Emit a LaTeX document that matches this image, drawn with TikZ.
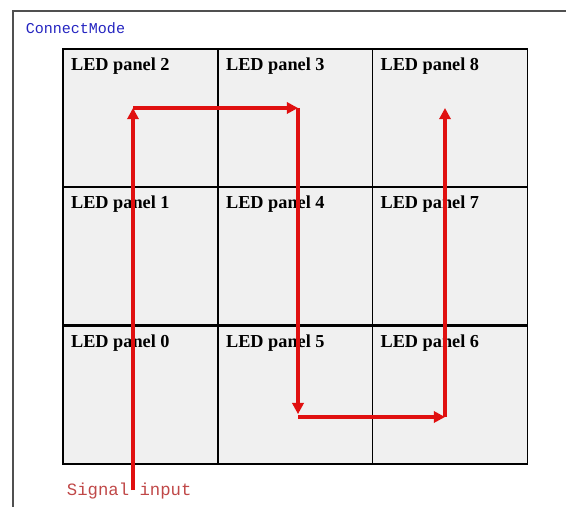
\documentclass[tikz,border=0pt]{standalone}
\usepackage{fontspec}
\setmainfont{Liberation Serif}
\setmonofont{Liberation Mono}
\usepackage{xcolor}
\usepackage{tikz}
\usetikzlibrary{
  arrows.meta,
  positioning
}
\definecolor{panelfill}{HTML}{F0F0F0}
\definecolor{wirered}{HTML}{E01010}
\definecolor{modeblue}{HTML}{2424C0}
\definecolor{inputred}{HTML}{C04848}
\definecolor{framegray}{HTML}{505050}

\begin{document}
\begin{tikzpicture}[
  panel/.style={draw=black, fill=panelfill, line width=1.4pt,
                minimum width=3.875cm, minimum height=3.45cm, inner sep=0pt},
  plabel/.style={anchor=north west, inner xsep=0.22cm, inner ysep=0.24cm,
                 font=\fontsize{13}{15}\selectfont\bfseries},
  wire/.style={-{Triangle[length=8pt, width=8pt]}, line width=2.6pt, wirered},
  mono/.style={font=\fontsize{10.7}{12}\selectfont\ttfamily},
]
  \useasboundingbox (0,0) rectangle (14.15,12.675);
  % frame: only top and left edges show
  \draw[framegray, line width=1.4pt] (14.15,12.4) -- (0.325,12.4) -- (0.325,0);
  \node[mono, modeblue, anchor=base west] (mode) at (0.52,11.825) {ConnectMode};

  % 3x3 wall of panels
  \node[panel, label={[plabel]north west:LED panel 2}] (p2) at (3.5125, 9.725) {};
  \node[panel, label={[plabel]north west:LED panel 3}] (p3) at (7.3875, 9.725) {};
  \node[panel, label={[plabel]north west:LED panel 8}] (p8) at (11.25, 9.725) {};
  \node[panel, label={[plabel]north west:LED panel 1}] (p1) at (3.5125, 6.275) {};
  \node[panel, label={[plabel]north west:LED panel 4}] (p4) at (7.3875, 6.275) {};
  \node[panel, label={[plabel]north west:LED panel 7}] (p7) at (11.25, 6.275) {};
  \node[panel, label={[plabel]north west:LED panel 0}] (p0) at (3.5125, 2.8) {};
  \node[panel, label={[plabel]north west:LED panel 5}] (p5) at (7.3875, 2.8) {};
  \node[panel, label={[plabel]north west:LED panel 6}] (p6) at (11.25, 2.8) {};

  \node[mono, inputred, anchor=base west,
        font=\fontsize{12.3}{14}\selectfont\ttfamily] (sig) at (1.55,0.3) {Signal input};

  % signal path, snake through the columns
  \coordinate (in) at (3.325,0.425);
  \coordinate (c1) at (3.325,9.975);
  \coordinate (c2) at (7.45,9.975);
  \coordinate (c3) at (7.45,2.25);
  \coordinate (c4) at (11.125,2.25);
  \coordinate (c5) at (11.125,9.975);
  \draw[wire] (in) -- (c1);
  \draw[wire] (c1) -- (c2);
  \draw[wire, shorten >=2pt] (c2) -- (c3);
  \draw[wire] (c3) -- (c4);
  \draw[wire] (c4) -- (c5);
\end{tikzpicture}
\end{document}
